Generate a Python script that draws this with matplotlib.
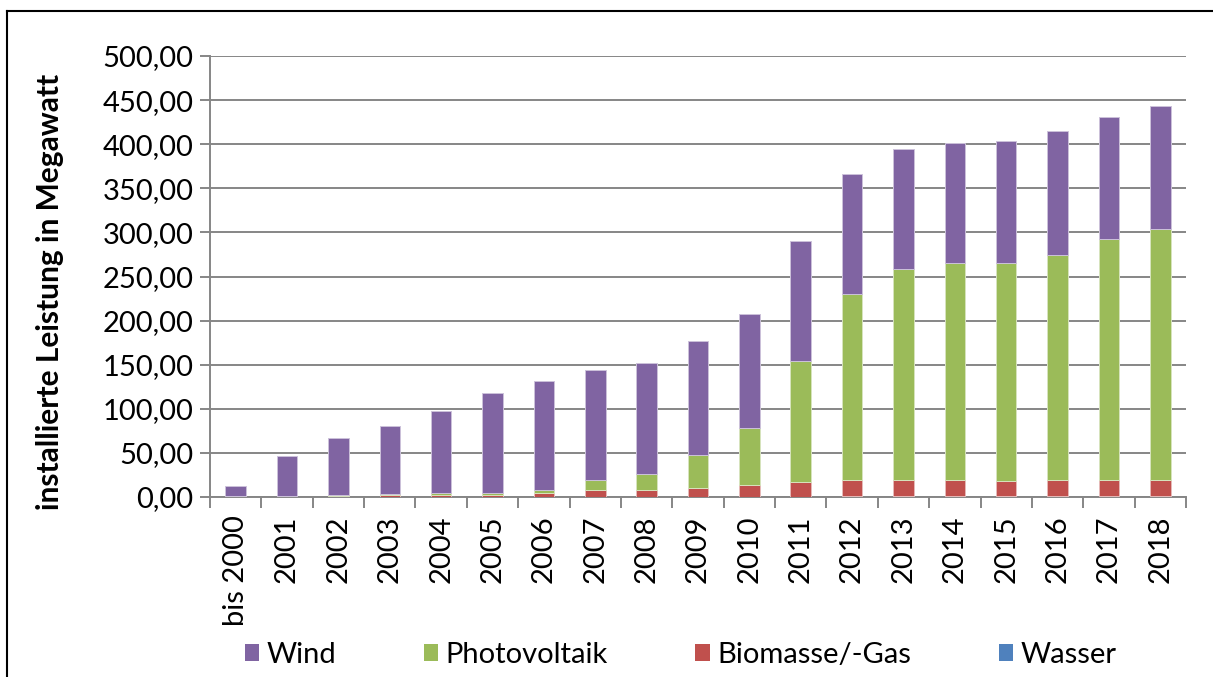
import numpy as np
import matplotlib
matplotlib.use("Agg")
from matplotlib import pyplot as plt
from matplotlib.lines import Line2D
from matplotlib.patches import Patch
from matplotlib.ticker import FuncFormatter, FixedLocator

plt.rcParams['font.family'] = ['Lato', 'DejaVu Sans']

years = ['bis 2000', '2001', '2002', '2003', '2004', '2005', '2006', '2007',
         '2008', '2009', '2010', '2011', '2012', '2013', '2014', '2015',
         '2016', '2017', '2018']

# installierte Leistung in MW
wasser = [0.3, 0.3, 0.3, 0.3, 0.3, 0.3, 0.5, 0.5, 0.5, 0.5, 0.5, 0.5,
          0.8, 0.8, 1.0, 1.0, 1.2, 1.2, 1.0]
biomasse = [0.9, 0.7, 1.2, 1.5, 1.7, 2.2, 4.5, 8.0, 8.0, 9.5, 13.0, 17.0,
            18.7, 18.7, 18.5, 17.5, 18.3, 18.3, 18.5]
photovoltaik = [0.0, 0.1, 1.0, 1.2, 2.0, 2.0, 3.0, 11.0, 18.0, 37.5, 65.0,
                136.5, 210.5, 239.5, 246.0, 247.0, 254.5, 273.0, 284.0]
wind = [10.8, 45.4, 64.0, 78.0, 93.5, 113.5, 123.5, 124.0, 125.0, 129.5,
        129.0, 136.5, 136.0, 135.5, 135.5, 138.0, 141.0, 138.5, 140.0]

series = [
    ("Wasser", wasser, "#4F81BD", "#B9CDE5"),
    ("Biomasse/-Gas", biomasse, "#C0504D", "#E6B9B8"),
    ("Photovoltaik", photovoltaik, "#9BBB59", "#D7E4BD"),
    ("Wind", wind, "#8064A2", "#CCC1DA"),
]

W, H = 1213, 677
fig = plt.figure(figsize=(W / 100, H / 100), dpi=100)
ax = fig.add_axes([210 / W, 1 - 497 / H, (1186 - 210) / W, (497 - 56) / H])

x = np.arange(len(years))
bottom = np.zeros(len(years))
for name, vals, col, edge in series:
    vals = np.array(vals)
    ax.bar(x, vals, width=0.4, bottom=bottom, color=col, edgecolor=edge,
           linewidth=0.7, zorder=3)
    bottom += vals

grid_col = "#868686"
ax.set_xlim(-0.5, len(years) - 0.5)
ax.set_ylim(0, 500)
ax.set_yticks(np.arange(0, 501, 50))
ax.yaxis.set_major_formatter(FuncFormatter(lambda v, p: f"{v:.2f}".replace(".", ",")))
ax.yaxis.grid(True, color=grid_col, linewidth=1.4, zorder=0)
ax.set_axisbelow(True)

ax.set_xticks(x)
ax.set_xticklabels(years, rotation=90)
ax.xaxis.set_minor_locator(FixedLocator(np.arange(-0.5, len(years), 1.0)))
ax.tick_params(axis='x', which='major', length=0, pad=13, labelsize=21)
ax.tick_params(axis='x', which='minor', length=8, width=1.4, color=grid_col)
ax.tick_params(axis='y', length=7, width=1.4, color=grid_col, labelsize=21, pad=5)

for s in ['top', 'right']:
    ax.spines[s].set_visible(False)
for s in ['left', 'bottom']:
    ax.spines[s].set_color(grid_col)
    ax.spines[s].set_linewidth(1.4)

fig.text(50 / W, 1 - 292 / H, "installierte Leistung in Megawatt",
         rotation=90, fontsize=21.5, fontweight='bold', ha='center', va='center')

handles = [Patch(facecolor=c, edgecolor='none', label=n)
           for n, _, c, _ in [series[3], series[2], series[1], series[0]]]
fig.legend(handles=handles, loc='center', bbox_to_anchor=(0.561, 1 - 655 / H),
           ncol=4, frameon=False, fontsize=21, handlelength=0.5,
           handleheight=0.5, handletextpad=0.25, columnspacing=3.0)

# frame around the chart
fig.add_artist(Line2D([7 / W, 7 / W], [0, 1 - 11 / H], color='black', lw=1.5))
fig.add_artist(Line2D([7 / W, 1], [1 - 11 / H, 1 - 11 / H], color='black', lw=1.5))

fig.savefig("out.png", dpi=100)
